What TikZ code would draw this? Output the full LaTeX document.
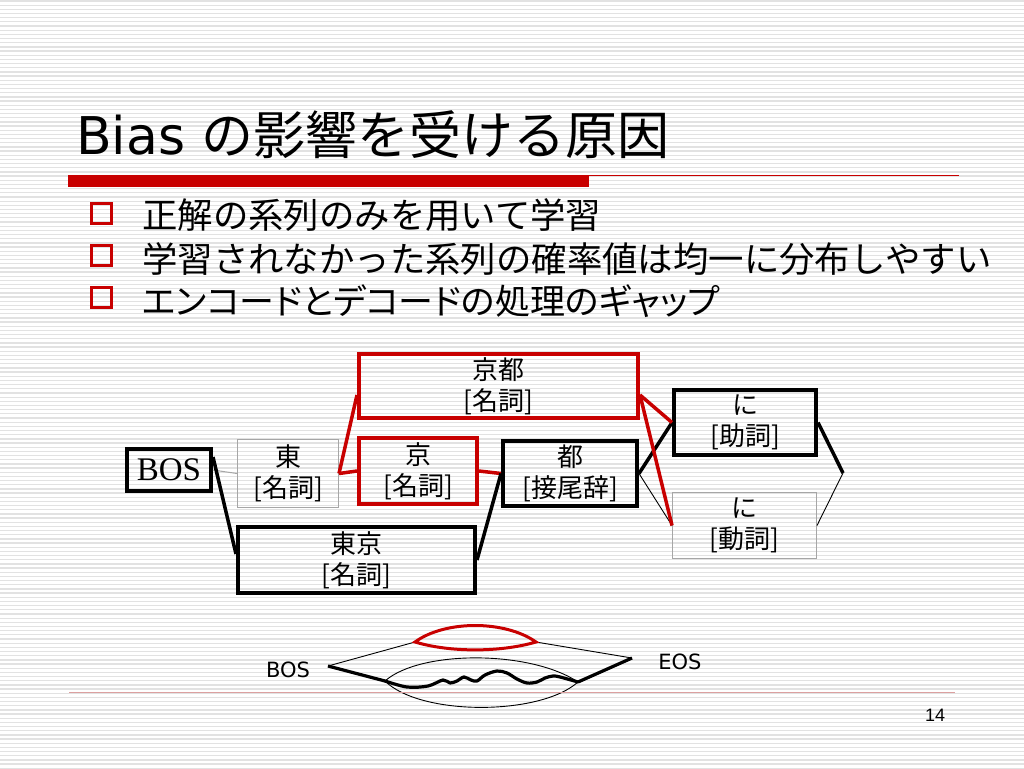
\documentclass[tikz,border=0pt]{standalone}
\usepackage{fontspec}
\setmainfont{Noto Sans CJK JP}
\newfontfamily\jpfont{Noto Sans CJK JP}
\newfontfamily\jppfont[RawFeature=+palt]{Noto Sans CJK JP}
\newfontfamily\dvfont{DejaVu Sans}
\newfontfamily\lserif{Liberation Serif}
\newfontfamily\lsans{Liberation Sans}
\usetikzlibrary{calc}
\definecolor{accent}{RGB}{200,0,0}
\definecolor{stripecol}{RGB}{226,226,226}
\definecolor{footcol}{RGB}{220,160,160}
\tikzset{
  stripeline/.style={draw=stripecol, line width=1.3pt},
  boxtext/.style={inner sep=0pt, align=center, font=\jpfont\fontsize{26}{31}\selectfont},
  thickbox/.style={boxtext, draw=black, line width=4pt},
  thinbox/.style={boxtext, draw=gray!70, line width=1pt},
  redbox/.style={boxtext, draw=accent, line width=4pt},
  thickline/.style={draw=black, line width=3.5pt},
  thinline/.style={draw=black, line width=0.9pt},
  grayline/.style={draw=gray!70, line width=1pt},
  redline/.style={draw=accent, line width=3.5pt},
  bulletsq/.style={draw=accent, line width=3pt, minimum size=20pt, inner sep=0pt},
  bullettext/.style={anchor=west, inner sep=0pt, font=\jpfont\fontsize{35.4}{40}\selectfont},
  smalllabel/.style={inner sep=0pt, font=\dvfont\fontsize{21}{24}\selectfont},
}
\begin{document}
\begin{tikzpicture}[x=1pt,y=-1pt]
\useasboundingbox (0,0) rectangle (1024,768);
\fill[white] (0,0) rectangle (1024,768);
% background stripes
\foreach \i in {0,...,184} {
  \draw[stripeline] (0,{\i*4.17+1}) -- (1024,{\i*4.17+1});
}
% title
\node[anchor=base west, inner sep=0pt, font=\jpfont\fontsize{52}{60}\selectfont] (title) at (76,154) {{\dvfont Bias }の影響を受ける原因};
\fill[accent] (68,175) rectangle (589,187);
\draw[accent, line width=1pt] (589,175.5) -- (959,175.5);
% bullets
\node[bulletsq] (b1) at (101.5,213) {};
\node[bulletsq] (b2) at (101.5,255) {};
\node[bulletsq] (b3) at (101.5,297) {};
\node[bullettext] (t1) at (142,215) {正解の系列のみを用いて学習};
\node[bullettext] (t2) at (142,259) {学習されなかった系列の確率値は均一に分布しやすい};
\node[bullettext, font=\jppfont\fontsize{35}{40}\selectfont] (t3) at (142,301) {エンコードとデコードの処理のギャップ};
% lattice nodes
\node[thickbox, minimum width=84pt, minimum height=42pt, font=\lserif\fontsize{33}{36}\selectfont] (BOS) at (169,470) {BOS};
\node[thinbox, minimum width=101pt, minimum height=68pt] (higashi) at (288,473.5) {東\\{[}名詞{]}};
\node[redbox, minimum width=118pt, minimum height=66pt] (kyo) at (418,471) {京\\{[}名詞{]}};
\node[redbox, minimum width=279pt, minimum height=64pt] (kyoto) at (498.5,386) {京都\\{[}名詞{]}};
\node[thickbox, minimum width=237pt, minimum height=66pt] (tokyo) at (356.5,560) {東京\\{[}名詞{]}};
\node[thickbox, minimum width=134pt, minimum height=65pt] (to) at (570,473.5) {都\\{[}接尾辞{]}};
\node[thickbox, minimum width=142pt, minimum height=65pt] (ni1) at (745,422.5) {に\\{[}助詞{]}};
\node[thinbox, minimum width=144pt, minimum height=66pt] (ni2) at (744.5,525.5) {に\\{[}動詞{]}};
\coordinate (endpt) at (843,473);
% lattice connectors
\draw[grayline] (BOS.east) -- (higashi.west);
\draw[thickline] ($(BOS.east)+(0,-13)$) -- ($(tokyo.west)+(0,-6)$);
\draw[redline] (higashi.east) -- (kyo.west);
\draw[redline] (higashi.east) -- ($(kyoto.west)+(0,9)$);
\draw[redline] (kyo.east) -- (to.west);
\draw[thickline] (tokyo.east) -- (to.west);
\draw[thickline] (to.east) -- (ni1.west);
\draw[thinline] (to.east) -- (ni2.west);
\draw[redline] ($(kyoto.east)+(0,9)$) -- (ni1.west);
\draw[redline] ($(kyoto.east)+(0,9)$) -- (ni2.west);
\draw[thickline] (ni1.east) -- (endpt);
\draw[thinline] (ni2.east) -- (endpt);
% bottom schematic
\node[smalllabel] (bosl) at (288,670) {BOS};
\node[smalllabel] (eosl) at (680,662) {EOS};
\coordinate (bp) at (328,666);
\coordinate (ep) at (632,658);
\coordinate (rl) at (415,642);
\coordinate (rr) at (536,642);
\coordinate (ll) at (385,681);
\coordinate (lr) at (578,682);
\draw[thinline] (bp) -- (rl);
\draw[thinline] (rr) -- (ep);
\draw[accent, line width=3pt] (rl) .. controls (445,620) and (505,620) .. (rr)
  .. controls (500,652.5) and (450,652.5) .. (rl) -- cycle;
\draw[thickline, line width=3.2pt] (bp) -- (ll);
\draw[thickline, line width=3.2pt] (lr) -- (ep);
\draw[thinline] (ll) .. controls (420,650) and (530,650) .. (lr);
\draw[thinline] (ll) .. controls (420,716) and (540,716) .. (lr);
\draw[black, line width=3.2pt, line join=round, line cap=round] plot[smooth, tension=0.55] coordinates {(385,681) (407,687) (428,686) (443,680) (450,683) (457,681) (464,677) (471,680) (477,681) (485,675) (497,671) (507,673) (517,679) (527,683) (537,682) (545,678) (553,676) (560,677) (578,682)};
% footer
\draw[footcol, line width=1pt] (69,692) -- (955,692);
\node[inner sep=0pt, font=\lsans\fontsize{18}{20}\selectfont] (pnum) at (935,715) {14};
\end{tikzpicture}
\end{document}
